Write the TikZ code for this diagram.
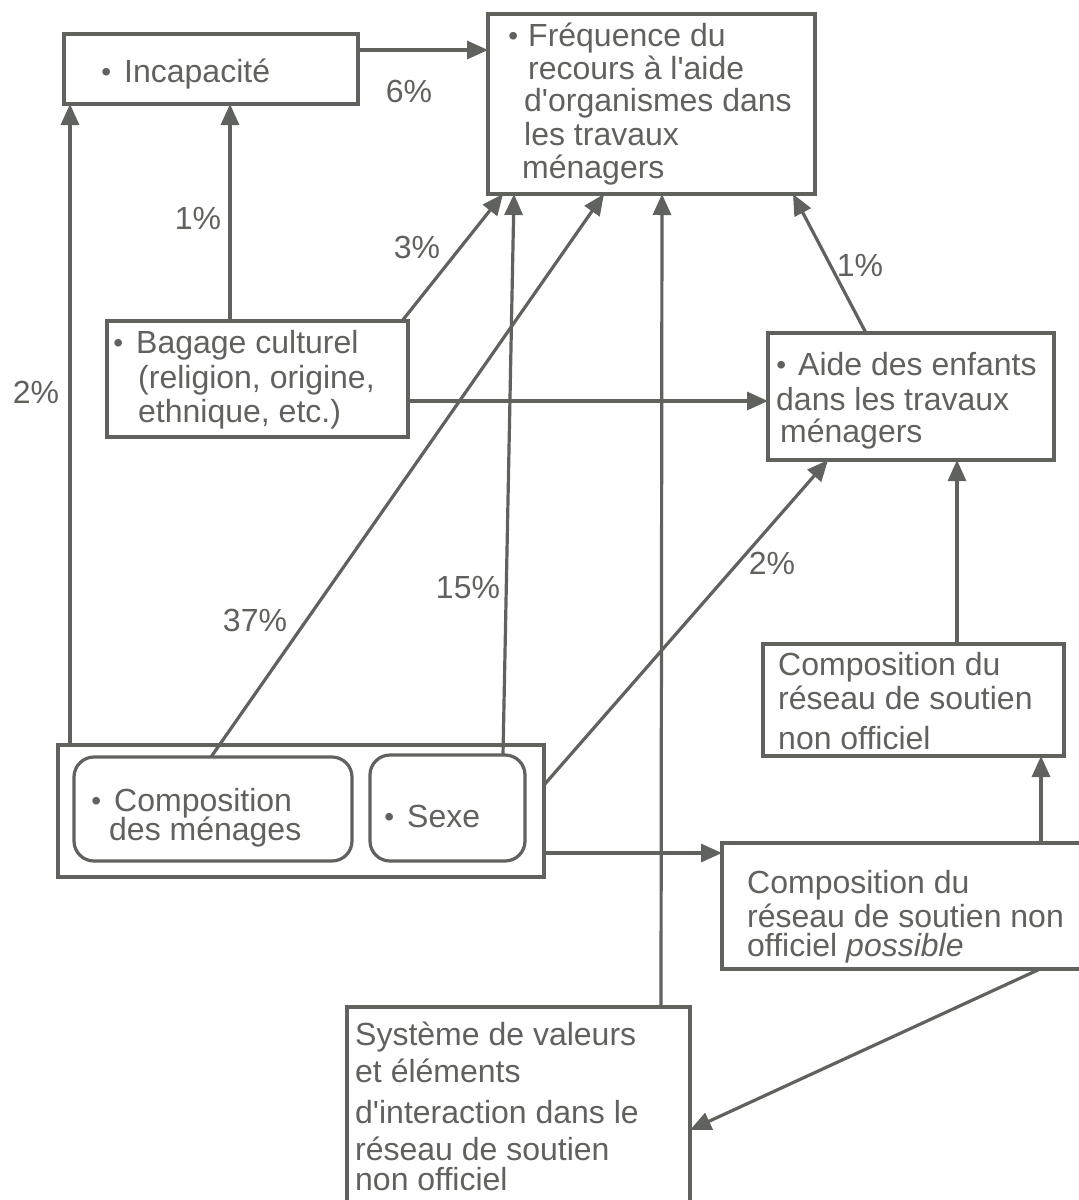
\documentclass[tikz,border=0pt]{standalone}
\usepackage{fontspec}
\setmainfont{Liberation Sans}
\usetikzlibrary{arrows.meta,calc}
\definecolor{ink}{RGB}{96,98,94}
\newcommand\bul[1]{\llap{\raisebox{1pt}{\fontsize{28}{28}\selectfont •}\hspace{#1}}}
\newcommand\apo{\textquotesingle}
\begin{document}
\begin{tikzpicture}[x=1pt,y=-1pt,
  box/.style={draw=ink,line width=3.2pt,anchor=north west,inner sep=0pt,outer sep=0pt},
  rbox/.style={box,rounded corners=20pt},
  txt/.style={anchor=base west,inner sep=0pt,text=ink,font=\fontsize{32}{36}\selectfont},
  lab/.style={inner sep=0pt,text=ink,font=\fontsize{32}{36}\selectfont},
  arr/.style={draw=ink,line width=3.2pt,-{Triangle[length=21pt,width=18pt]}}]
\useasboundingbox (0,0) rectangle (1079,1200);
\fill[white] (0,0) rectangle (1079,1200);
\clip (0,0) rectangle (1079,1200);

% boxes
\node[box,minimum width=294pt,minimum height=70pt] (inc) at (64,34) {};
\node[box,minimum width=327pt,minimum height=180pt] (freq) at (488,14) {};
\node[box,minimum width=301pt,minimum height=116pt] (bag) at (107,321) {};
\node[box,minimum width=286pt,minimum height=127pt] (aide) at (768,333) {};
\node[box,minimum width=301pt,minimum height=112pt] (rcomp) at (763,644) {};
\node[box,minimum width=400pt,minimum height=126pt] (poss) at (722,843) {};
\node[box,minimum width=343pt,minimum height=230pt] (sys) at (347,1007) {};
\node[box,minimum width=486pt,minimum height=132pt] (outer) at (58,745) {};
\node[rbox,minimum width=278pt,minimum height=104pt] (menag) at (74,757) {};
\node[rbox,minimum width=155pt,minimum height=106pt] (sexe) at (370,755) {};

% texts
\node[txt] (inc1) at (124,82) {\bul{13pt}Incapacité};

\node[txt] (fr1) at (528,46) {\bul{10pt}Fréquence du};
\node[txt] (fr2) at (528,79) {recours à l\apo aide};
\node[txt] (fr3) at (524,111) {d\apo organismes dans};
\node[txt] (fr4) at (524,145) {les travaux};
\node[txt] (fr5) at (522,178) {ménagers};

\node[txt] (bg1) at (136,353) {\bul{13pt}Bagage culturel};
\node[txt] (bg2) at (138,388) {(religion, origine,};
\node[txt] (bg3) at (138,422) {ethnique, etc.)};

\node[txt] (ai1) at (798,375) {\bul{12pt}Aide des enfants};
\node[txt] (ai2) at (776,410) {dans les travaux};
\node[txt] (ai3) at (780,442) {ménagers};

\node[txt] (rc1) at (778,675) {Composition du};
\node[txt] (rc2) at (778,709) {réseau de soutien};
\node[txt] (rc3) at (778,749) {non officiel};

\node[txt] (po1) at (747,893) {Composition du};
\node[txt] (po2) at (747,927) {réseau de soutien non};
\node[txt] (po3) at (747,956) {officiel \textit{possible}};

\node[txt] (sy1) at (355,1045) {Système de valeurs};
\node[txt] (sy2) at (355,1082) {et éléments};
\node[txt] (sy3) at (355,1123) {d\apo interaction dans le};
\node[txt] (sy4) at (355,1160) {réseau de soutien};
\node[txt] (sy5) at (355,1190) {non officiel};

\node[txt] (me1) at (114,811) {\bul{13pt}Composition};
\node[txt] (me2) at (109,840) {des ménages};
\node[txt] (se1) at (407,827) {\bul{13pt}Sexe};

% labels
\node[lab] (l6) at (409,91) {6\%};
\node[lab] (l1a) at (198,218) {1\%};
\node[lab] (l2a) at (36,392) {2\%};
\node[lab] (l3) at (417,247) {3\%};
\node[lab] (l1b) at (860,265) {1\%};
\node[lab] (l37) at (255,620) {37\%};
\node[lab] (l15) at (468,588) {15\%};
\node[lab] (l2b) at (772,563) {2\%};

% connectors
\draw[arr] ($(inc.north east)+(0,16)$) -- ($(freq.north west)+(0,36)$);
\draw[arr] ($(bag.north west)+(123,0)$) -- ($(inc.south west)+(166,0)$);
\draw[arr] ($(outer.north west)+(12,0)$) -- ($(inc.south west)+(6,0)$);
\draw[arr] ($(bag.north east)+(-6,0)$) -- ($(freq.south west)+(15,0)$);
\draw[arr] ($(menag.north west)+(137,0)$) -- ($(freq.south west)+(116,0)$);
\draw[arr] ($(sexe.north east)+(-22,0)$) -- ($(freq.south west)+(26,0)$);
\draw[arr] ($(sys.north west)+(314,0)$) -- ($(freq.south west)+(174,0)$);
\draw[arr] ($(aide.north west)+(98,0)$) -- ($(freq.south east)+(-22,0)$);
\draw[arr] ($(bag.north east)+(0,80)$) -- ($(aide.north west)+(0,68)$);
\draw[arr] ($(outer.north east)+(0,40)$) -- ($(aide.south west)+(60,0)$);
\draw[arr] ($(rcomp.north west)+(194,0)$) -- ($(aide.south west)+(189,0)$);
\draw[arr] ($(poss.north west)+(319,0)$) -- ($(rcomp.south west)+(278,0)$);
\draw[arr] ($(outer.south east)+(0,-24)$) -- ($(poss.north west)+(0,10)$);
\draw[arr] ($(poss.south west)+(318,0)$) -- ($(sys.north east)+(0,123)$);
\end{tikzpicture}
\end{document}
